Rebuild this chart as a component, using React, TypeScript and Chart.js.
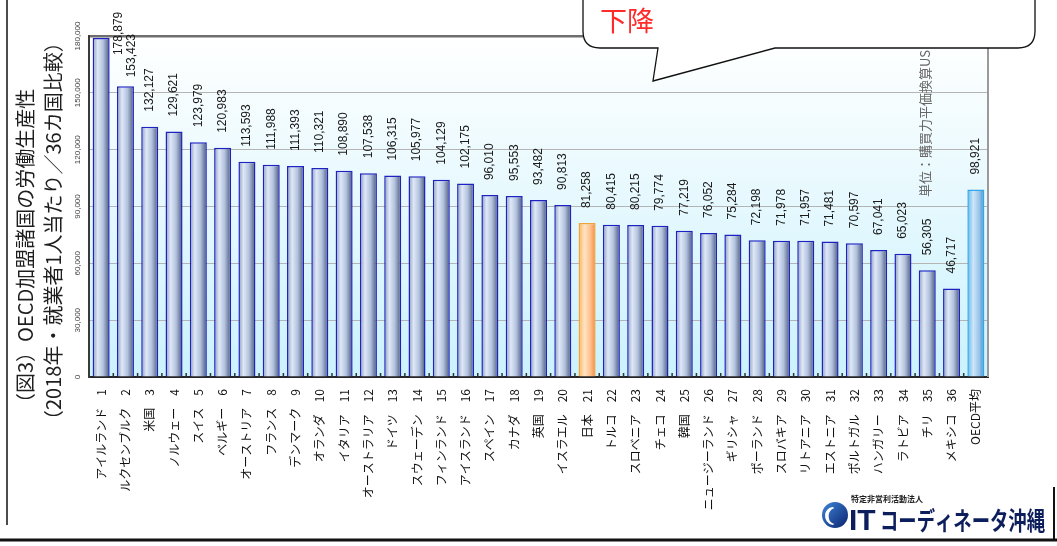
import React, { useEffect, useRef } from "react";
import { Chart, registerables } from "chart.js";

Chart.register(...registerables);

const categories = [
  "アイルランド", "ルクセンブルク", "米国", "ノルウェー", "スイス", "ベルギー",
  "オーストリア", "フランス", "デンマーク", "オランダ", "イタリア", "オーストラリア",
  "ドイツ", "スウェーデン", "フィンランド", "アイスランド", "スペイン", "カナダ",
  "英国", "イスラエル", "日本", "トルコ", "スロベニア", "チェコ", "韓国",
  "ニュージーランド", "ギリシャ", "ポーランド", "スロバキア", "リトアニア",
  "エストニア", "ポルトガル", "ハンガリー", "ラトビア", "チリ", "メキシコ", "OECD平均",
];
const ranks = [
  1, 2, 3, 4, 5, 6, 7, 8, 9, 10, 11, 12, 13, 14, 15, 16, 17, 18, 19, 20,
  21, 22, 23, 24, 25, 26, 27, 28, 29, 30, 31, 32, 33, 34, 35, 36, null,
];
const values = [
  178879, 153423, 132127, 129621, 123979, 120983, 113593, 111988, 111393, 110321,
  108890, 107538, 106315, 105977, 104129, 102175, 96010, 95553, 93482, 90813,
  81258, 80415, 80215, 79774, 77219, 76052, 75284, 72198, 71978, 71957,
  71481, 70597, 67041, 65023, 56305, 46717, 98921,
];
const yTicks = [0, 30000, 60000, 90000, 120000, 150000, 180000];

const titleLine1 = "（図3）OECD加盟諸国の労働生産性";
const titleLine2 = "（2018年・就業者1人当たり／36カ国比較）";
const unitNote = "単位：購買力平価換算USドル";
const calloutText = "下降";
const logoSmall = "特定非営利活動法人";
const logoIT = "IT";
const logoMain = "コーディネータ沖縄";
const japanName = "日本";
const averageName = "OECD平均";

const W = 1057;
const H = 546;
const CJK = '"Noto Sans CJK JP", "Noto Sans CJK SC", sans-serif';
const ARIAL = 'Arial, "Liberation Sans", sans-serif';

function kindOf(i: number) {
  if (categories[i] === japanName) return "jp";
  if (categories[i] === averageName) return "avg";
  return "std";
}

function barGradient(chart: any, i: number) {
  const area = chart.chartArea;
  const kind = kindOf(i);
  if (!area) return kind === "jp" ? "#ffc890" : kind === "avg" ? "#90c8f0" : "#b8c8e4";
  const cx = chart.scales.x.getPixelForValue(i);
  const bw = (area.width / categories.length) * 0.7;
  const g = chart.ctx.createLinearGradient(cx - bw / 2, 0, cx + bw / 2, 0);
  if (kind === "jp") {
    g.addColorStop(0, "#ffb24a");
    g.addColorStop(0.35, "#ffe4c8");
    g.addColorStop(0.7, "#ffbf8a");
    g.addColorStop(1, "#f38a45");
  } else if (kind === "avg") {
    g.addColorStop(0, "#5cb8ee");
    g.addColorStop(0.35, "#cfe6f8");
    g.addColorStop(0.7, "#98c4e8");
    g.addColorStop(1, "#3a8fd0");
  } else {
    g.addColorStop(0, "#8c9aba");
    g.addColorStop(0.3, "#dfe8f7");
    g.addColorStop(0.62, "#b2c2de");
    g.addColorStop(1, "#4a5676");
  }
  return g;
}

function borderOf(i: number) {
  const kind = kindOf(i);
  if (kind === "jp") return "#f2a23c";
  if (kind === "avg") return "#34a6e6";
  return "#1e22c0";
}

const labelNudge: Record<number, [number, number]> = { 0: [18, 32], 1: [6, 6] };

function rotText(ctx: CanvasRenderingContext2D, text: string, x: number, y: number, align: CanvasTextAlign) {
  ctx.save();
  ctx.translate(x, y);
  ctx.rotate(-Math.PI / 2);
  ctx.textAlign = align;
  ctx.textBaseline = "middle";
  ctx.fillText(text, 0, 0);
  ctx.restore();
}

const decorPlugin = {
  id: "decor",
  beforeDraw(chart: any) {
    const { ctx, chartArea: a } = chart;
    ctx.save();
    ctx.fillStyle = "#ffffff";
    ctx.fillRect(0, 0, W, H);
    const g = ctx.createLinearGradient(0, a.top, 0, a.bottom);
    g.addColorStop(0, "#ffffff");
    g.addColorStop(1, "#cbf2fd");
    ctx.fillStyle = g;
    ctx.fillRect(a.left, a.top, a.width, a.height);
    ctx.restore();
  },
  afterDatasetsDraw(chart: any) {
    const { ctx, chartArea: a } = chart;
    const n = categories.length;
    ctx.save();
    ctx.strokeStyle = "#9a9a9a";
    ctx.lineWidth = 2;
    ctx.beginPath();
    ctx.moveTo(a.right, a.top);
    ctx.lineTo(a.right, a.bottom);
    ctx.stroke();
    ctx.strokeStyle = "#333";
    ctx.lineWidth = 1.5;
    for (let i = 1; i < n; i++) {
      const x = a.left + (i * a.width) / n;
      ctx.beginPath();
      ctx.moveTo(x, a.bottom);
      ctx.lineTo(x, a.bottom - 4);
      ctx.stroke();
    }
    const meta = chart.getDatasetMeta(0);
    ctx.fillStyle = "#1a1a1a";
    ctx.font = `12px ${ARIAL}`;
    meta.data.forEach((el: any, i: number) => {
      const [dx, dy] = labelNudge[i] || [0, 0];
      rotText(ctx, values[i].toLocaleString("en-US"), el.x + dx, el.y - 15 + dy, "left");
    });
    ctx.fillStyle = "#444";
    ctx.font = `8px ${ARIAL}`;
    yTicks.forEach((v) => {
      const y = chart.scales.y.getPixelForValue(v);
      rotText(ctx, v.toLocaleString("en-US"), 78, y, "center");
    });
    ctx.fillStyle = "#1e1e1e";
    ctx.font = `20px ${CJK}`;
    rotText(ctx, titleLine1, 25, 413, "left");
    rotText(ctx, titleLine2, 53, 430, "left");
    ctx.fillStyle = "#666";
    ctx.font = `13px ${CJK}`;
    rotText(ctx, unitNote, 925, 197, "left");
    ctx.strokeStyle = "#111";
    ctx.lineWidth = 1.5;
    ctx.beginPath();
    ctx.moveTo(7, 0);
    ctx.lineTo(7, 525);
    ctx.stroke();
    ctx.lineWidth = 3;
    ctx.beginPath();
    ctx.moveTo(0, 540);
    ctx.lineTo(W, 540);
    ctx.stroke();
    ctx.lineWidth = 2;
    ctx.beginPath();
    ctx.moveTo(1054, 487);
    ctx.lineTo(1054, 540);
    ctx.stroke();
    const cx = 835, cy = 515, r = 13;
    const lg = ctx.createLinearGradient(cx - r, cy - r, cx + r, cy + r);
    lg.addColorStop(0, "#3f86d8");
    lg.addColorStop(1, "#0b2370");
    ctx.fillStyle = lg;
    ctx.beginPath();
    ctx.arc(cx, cy, r, 0, Math.PI * 2);
    ctx.fill();
    ctx.fillStyle = "#ffffff";
    ctx.beginPath();
    ctx.arc(cx - 1, cy + 1, 9, Math.PI * 0.55, Math.PI * 1.45);
    ctx.arc(cx + 2, cy + 1, 8.5, Math.PI * 1.4, Math.PI * 0.6, true);
    ctx.closePath();
    ctx.fill();
    ctx.fillStyle = "#0d1e5c";
    ctx.font = `bold 30px ${ARIAL}`;
    ctx.textAlign = "left";
    ctx.textBaseline = "alphabetic";
    ctx.fillText(logoIT, 849, 530);
    ctx.font = `bold 25px ${CJK}`;
    const mw = ctx.measureText(logoMain).width;
    ctx.save();
    ctx.translate(880, 530);
    ctx.scale(165 / mw, 1);
    ctx.fillText(logoMain, 0, 0);
    ctx.restore();
    ctx.fillStyle = "#222";
    ctx.font = `bold 8px ${CJK}`;
    ctx.fillText(logoSmall, 851, 502);
    ctx.restore();
  },
};

export default function App() {
  const ref = useRef<HTMLCanvasElement | null>(null);
  useEffect(() => {
    if (!ref.current) return;
    const labels = categories.map((c, i) => (ranks[i] == null ? c : `${c}\u3000${ranks[i]}`));
    const chart = new Chart(ref.current, {
      type: "bar",
      data: {
        labels,
        datasets: [
          {
            data: values,
            backgroundColor: (c: any) => barGradient(c.chart, c.dataIndex),
            borderColor: (c: any) => borderOf(c.dataIndex),
            borderWidth: 1.5,
            barPercentage: 0.7,
            categoryPercentage: 1,
          },
        ],
      },
      options: {
        animation: false,
        responsive: false,
        devicePixelRatio: 1,
        layout: { padding: { left: 89, right: W - 988, top: 36, bottom: 0 } },
        plugins: { legend: { display: false }, tooltip: { enabled: false } },
        scales: {
          x: {
            ticks: {
              autoSkip: false,
              maxRotation: 90,
              minRotation: 90,
              padding: 12,
              color: "#111",
              font: { family: CJK, size: 12 },
            },
            grid: { display: false, drawTicks: false },
            border: { display: true, color: "#262626", width: 2 },
            afterFit: (s: any) => {
              s.height = H - 377;
            },
          },
          y: {
            min: 0,
            max: 180000,
            afterBuildTicks: (s: any) => {
              s.ticks = yTicks.map((v) => ({ value: v }));
            },
            ticks: { display: false },
            grid: {
              drawTicks: false,
              color: (c: any) => (c.tick && c.tick.value === 180000 ? "#6e6e6e" : "#b4b4b4"),
              lineWidth: (c: any) => (c.tick && c.tick.value === 180000 ? 2.5 : 1),
            },
            border: { display: true, color: "#3a3a3a", width: 2 },
            afterFit: (s: any) => {
              s.width = 0;
            },
          },
        },
      },
      plugins: [decorPlugin],
    } as any);
    return () => chart.destroy();
  }, []);

  return (
    <div style={{ position: "absolute", left: 0, top: 0, width: W, height: H, background: "#fff", overflow: "hidden" }}>
      <canvas ref={ref} width={W} height={H} style={{ width: W, height: H, display: "block" }} />
      <svg
        width={W}
        height={H}
        style={{ position: "absolute", left: 0, top: 0, pointerEvents: "none" }}
      >
        <path
          d="M 583 -10 L 583 31 Q 583 48 600 48 L 658 48 L 653 81 L 775 48 L 1018 48 Q 1035 48 1035 31 L 1035 -10 Z"
          fill="#ffffff"
          stroke="#111"
          strokeWidth={1.3}
        />
        <text x={600} y={31} fill="#ff2a2a" fontSize={27} fontFamily={CJK}>
          {calloutText}
        </text>
      </svg>
    </div>
  );
}
